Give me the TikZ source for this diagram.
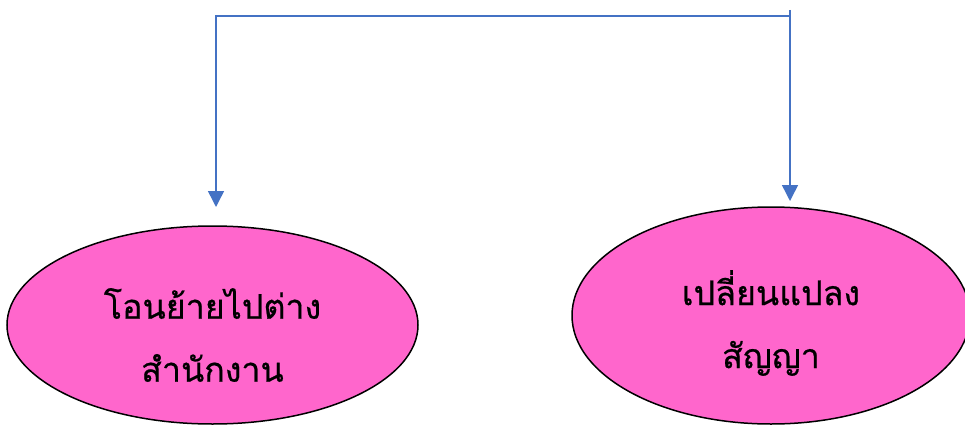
\documentclass[tikz,border=0pt]{standalone}
\usepackage{fontspec}
\newfontfamily\thaifont[Script=Thai,FakeBold=0.6]{Loma}
\usetikzlibrary{shapes.geometric,arrows.meta}
\definecolor{pinkfill}{HTML}{FF66CC}
\definecolor{linkblue}{HTML}{4472C4}
\tikzset{
  oval/.style={ellipse, draw=black, line width=1.5pt, fill=pinkfill, inner sep=0pt},
  ovaltext/.style={align=center, font=\thaifont\fontsize{34}{63}\selectfont},
  link/.style={draw=linkblue, line width=1.5pt, -{Triangle[width=16pt,length=16pt]}}
}
\begin{document}
\begin{tikzpicture}[x=1pt,y=-1pt]
\useasboundingbox (0,0) rectangle (965,425);
\node[oval, minimum width=411pt, minimum height=198pt] (left) at (212.5,325) {};
\node[ovaltext] (lefttext) at (212.5,335) {โอนย้ายไปต่าง\\สำนักงาน};
\node[oval, minimum width=398pt, minimum height=217pt] (right) at (771,315.5) {};
\node[ovaltext] (righttext) at (771,323) {เปลี่ยนแปลง\\สัญญา};
\coordinate (top) at (790,10);
\coordinate (corner) at (216,16);
\coordinate (rightend) at (790,201);
\coordinate (leftend) at (216,207);
\path[link] (top) -- (rightend);
\path[link] (790,16) -- (corner) -- (leftend);
\end{tikzpicture}
\end{document}
